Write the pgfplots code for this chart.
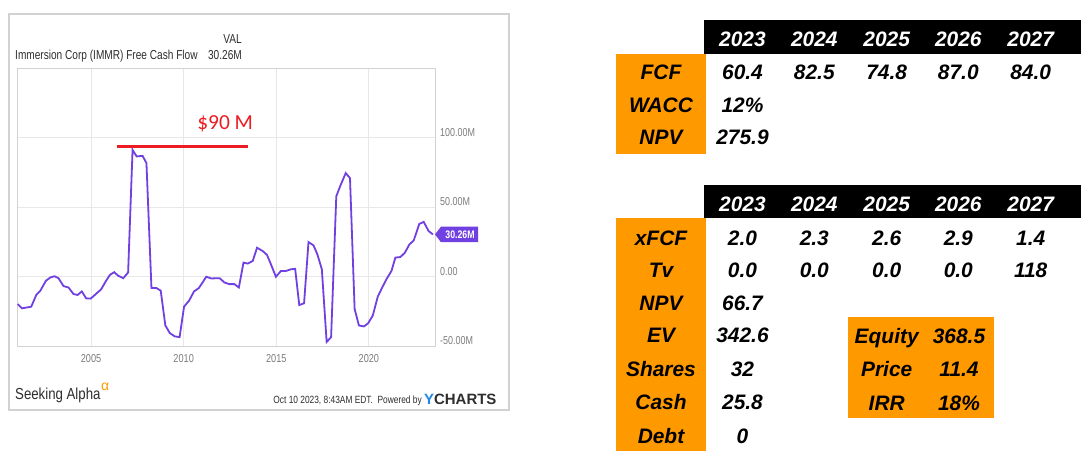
\documentclass[border=0pt]{standalone}
\usepackage{fontspec}
\setmainfont{Liberation Sans}
\newfontfamily\carlito{Carlito}
\usepackage{pgfplots}
\usepackage{pgfplotstable}
\usetikzlibrary{calc}
\pgfplotsset{compat=1.18}
\definecolor{ypurple}{RGB}{112,64,224}
\definecolor{xorange}{RGB}{255,153,0}
\definecolor{gridgray}{RGB}{232,232,232}
\definecolor{axgray}{RGB}{210,210,210}
\definecolor{ticklab}{RGB}{125,125,125}
\definecolor{fcred}{RGB}{236,28,36}
\definecolor{ycblue}{RGB}{30,136,229}
\definecolor{darktxt}{RGB}{45,45,45}
\newcommand\tbf{\fontsize{21}{24}\selectfont\bfseries\itshape}

\pgfplotstableread{
year val
2001.04 -19.8
2001.27 -22.9
2001.77 -21.7
2002.04 -13.3
2002.26 -10.2
2002.56 -3.1
2002.80 -0.7
2003.03 0.2
2003.24 -1.2
2003.51 -6.9
2003.78 -7.9
2004.05 -12.6
2004.27 -13.3
2004.50 -10.7
2004.73 -15.7
2004.98 -15.9
2005.30 -12.1
2005.54 -9.3
2005.81 -3.1
2006.02 1.2
2006.25 3.1
2006.47 0.5
2006.74 -1.2
2007.00 2.9
2007.24 91.1
2007.46 86.4
2007.78 86.8
2007.99 81.6
2008.26 -8.3
2008.53 -8.3
2008.76 -10.2
2009.01 -35.2
2009.25 -40.7
2009.52 -43.1
2009.78 -43.6
2010.02 -21.7
2010.29 -17.4
2010.56 -10.7
2010.82 -8.3
2011.22 -0.2
2011.49 -1.4
2011.94 -1.2
2012.20 -4.3
2012.47 -5.5
2012.74 -5.5
2012.98 -7.9
2013.23 10.0
2013.46 9.3
2013.73 11.2
2013.96 20.7
2014.27 18.3
2014.50 15.5
2014.71 8.8
2014.98 -0.2
2015.25 4.0
2015.52 4.0
2015.79 5.2
2016.02 5.5
2016.24 -20.5
2016.50 -19.3
2016.74 24.8
2017.01 22.4
2017.22 15.9
2017.46 5.2
2017.72 -47.1
2017.96 -43.6
2018.24 57.7
2018.48 66.0
2018.75 74.4
2018.98 70.8
2019.23 -23.3
2019.46 -35.2
2019.73 -35.9
2019.96 -33.6
2020.21 -28.1
2020.48 -14.5
2020.72 -7.9
2020.95 -1.9
2021.22 4.0
2021.43 13.6
2021.70 14.0
2021.94 17.1
2022.19 23.1
2022.42 25.9
2022.72 37.8
2022.96 39.3
2023.23 32.6
2023.46 30.26
}\fcf

\begin{document}
\begin{tikzpicture}
\path[use as bounding box, fill=white] (0,0) rectangle (1081bp,-457bp);
\begin{axis}[
  at={(17bp,-346bp)}, anchor=south west,
  scale only axis, width=418bp, height=278bp,
  xmin=2001, xmax=2023.57, ymin=-50, ymax=150,
  axis line style={draw=axgray, line width=0.8bp},
  grid=major, major grid style={draw=gridgray, line width=0.8bp},
  major tick length=0pt,
  xtick={2005,2010,2015,2020},
  xticklabels={\scalebox{0.8}[1]{2005},\scalebox{0.8}[1]{2010},\scalebox{0.8}[1]{2015},\scalebox{0.8}[1]{2020}},
  ytick={-50,0,50,100},
  yticklabels={\scalebox{0.78}[1]{-50.00M},\scalebox{0.78}[1]{0.00},\scalebox{0.78}[1]{50.00M},\scalebox{0.78}[1]{100.00M}},
  yticklabel pos=right,
  tick label style={text=ticklab, font=\fontsize{11.5}{13}\selectfont},
  yticklabel style={anchor=base west, inner sep=0pt, xshift=5bp, yshift=1.5bp},
  xticklabel style={anchor=base, inner sep=0pt, yshift=-16.7bp},
]
\addplot[ypurple, line width=1.8bp, mark=none] table[x=year,y=val] {\fcf};
\coordinate (redA) at (axis cs:2006.38,93.5);
\coordinate (redB) at (axis cs:2013.46,93.5);
\coordinate (redL) at (axis cs:2012.24,110);
\coordinate (tip) at (axis cs:2023.57,30.26);
\end{axis}
\draw[fcred, line width=3bp] (redA) -- (redB);
\node[text=fcred, font=\carlito\fontsize{21.5}{24}\selectfont] at (redL) {\$90 M};
\fill[ypurple] (tip) -- ++(6bp,7.8bp) -- ++(37bp,0pt) -- ++(0pt,-15.6bp) -- ++(-37bp,0pt) -- cycle;
\node[text=white, font=\fontsize{11}{13}\selectfont\bfseries, inner sep=0pt] at ($(tip)+(25bp,0pt)$) {\scalebox{0.8}[1]{30.26M}};
\begin{scope}[x=1bp,y=-1bp]
% chart frame
\draw[axgray, line width=1.2bp] (9,14) rectangle (509,410);
\node[anchor=base east, inner sep=0, text=darktxt, font=\fontsize{13}{15}\selectfont] at (242,43) {\scalebox{0.78}[1]{VAL}};
\node[anchor=base west, inner sep=0, text=darktxt, font=\fontsize{13}{15}\selectfont] at (15,59.5) {\scalebox{0.78}[1]{Immersion Corp (IMMR) Free Cash Flow}};
\node[anchor=base east, inner sep=0, text=darktxt, font=\fontsize{13}{15}\selectfont] at (242,59.5) {\scalebox{0.78}[1]{30.26M}};
% footer
\node[anchor=base west, inner sep=0, text=darktxt, font=\fontsize{16}{18}\selectfont] at (15,399) {\scalebox{0.83}[1]{Seeking Alpha}};
\node[anchor=base west, inner sep=0, text=xorange, font=\fontsize{14}{16}\selectfont] at (101,390) {α};
\node[anchor=base east, inner sep=0, text=darktxt, font=\fontsize{10.5}{12}\selectfont] at (422,403) {\scalebox{0.8}[1]{Oct 10 2023, 8:43AM EDT.\ \ Powered by}};
\node[anchor=base west, inner sep=0, font=\fontsize{15}{17}\selectfont\bfseries] at (424,404) {\textcolor{ycblue}{Y}\textcolor{darktxt}{CHARTS}};
% fills
\fill[black] (704,20) rectangle (1081,54);
\fill[xorange] (616,54) rectangle (706,154);
\fill[black] (704,185) rectangle (1081,217.7);
\fill[xorange] (616,217.7) rectangle (706,450.7);
\fill[xorange] (848,317) rectangle (994,418);
% table 1
\foreach \cx/\ct in {742.5/2023,814.3/2024,886.7/2025,958.3/2026,1030.7/2027}{
  \node[anchor=base, inner sep=0, text=white, font=\tbf] at (\cx,46) {\ct};
  \node[anchor=base, inner sep=0, text=white, font=\tbf] at (\cx,211) {\ct};
}
\foreach \ct/\cy in {FCF/79,WACC/112.3,NPV/144}{
  \node[anchor=base, inner sep=0, font=\tbf] at (661,\cy) {\ct};
}
\foreach \cx/\ct in {742.5/60.4,814.3/82.5,886.7/74.8,958.3/87.0,1030.7/84.0}{
  \node[anchor=base, inner sep=0, font=\tbf] at (\cx,79) {\ct};
}
\node[anchor=base, inner sep=0, font=\tbf] at (742.5,112.3) {12\%};
\node[anchor=base, inner sep=0, font=\tbf] at (742.5,144) {275.9};
% table 2
\foreach \ct/\cy in {xFCF/245,Tv/277.3,NPV/310,EV/342.7,Shares/376.7,Cash/409.3,Debt/443.3}{
  \node[anchor=base, inner sep=0, font=\tbf] at (661,\cy) {\ct};
}
\foreach \cx/\ca/\cb in {742.5/2.0/0.0,814.3/2.3/0.0,886.7/2.6/0.0,958.3/2.9/0.0,1030.7/1.4/118}{
  \node[anchor=base, inner sep=0, font=\tbf] at (\cx,245) {\ca};
  \node[anchor=base, inner sep=0, font=\tbf] at (\cx,277.3) {\cb};
}
\foreach \ct/\cy in {66.7/310,342.6/342.7,32/376.7,25.8/409.3,0/443.3}{
  \node[anchor=base, inner sep=0, font=\tbf] at (742.5,\cy) {\ct};
}
\node[anchor=base, inner sep=0, font=\tbf] at (886.7,343.3) {Equity};
\node[anchor=base, inner sep=0, font=\tbf] at (959,343.3) {368.5};
\node[anchor=base, inner sep=0, font=\tbf] at (886.7,376.7) {Price};
\node[anchor=base, inner sep=0, font=\tbf] at (959,376.7) {11.4};
\node[anchor=base, inner sep=0, font=\tbf] at (886.7,410) {IRR};
\node[anchor=base, inner sep=0, font=\tbf] at (959,410) {18\%};
\end{scope}
\end{tikzpicture}
\end{document}
